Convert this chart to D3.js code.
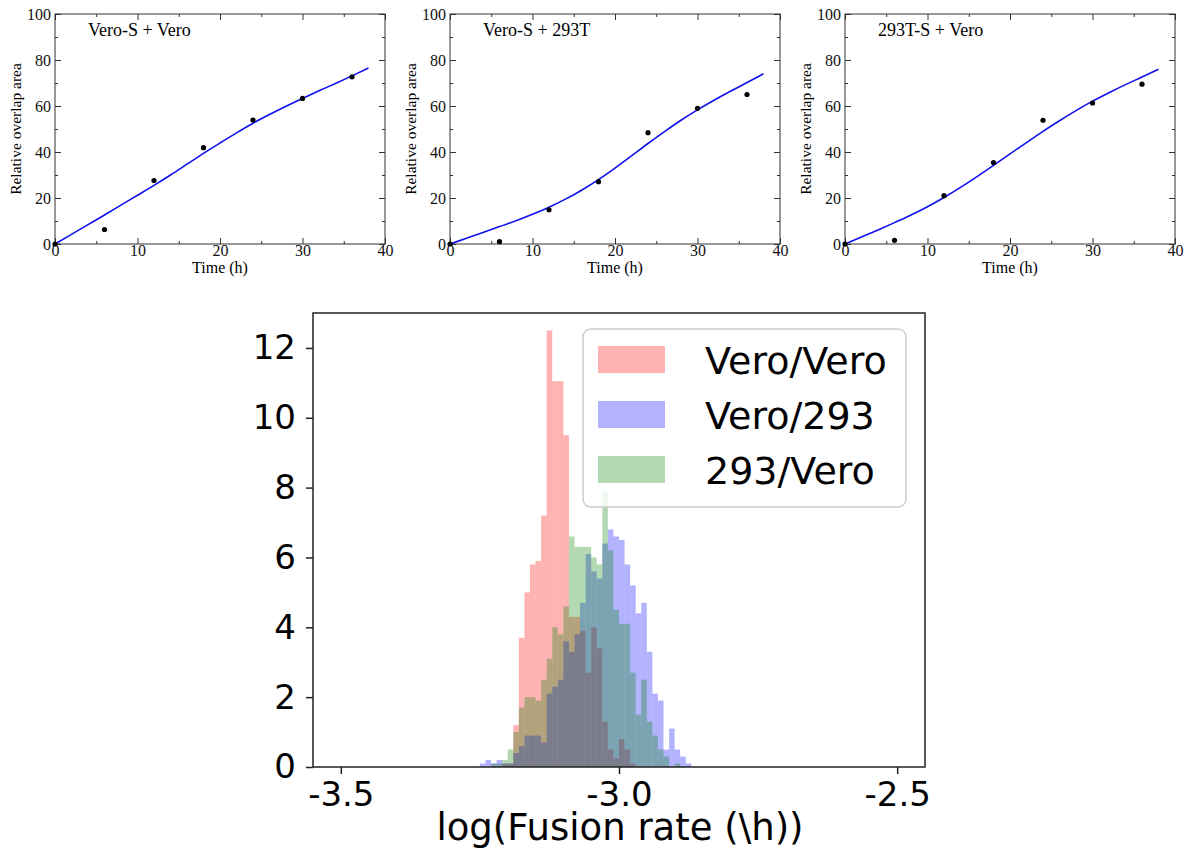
<!DOCTYPE html>
<html>
<head>
<meta charset="utf-8">
<script src="https://cdn.jsdelivr.net/npm/d3@7"></script>
<style>
  body { margin: 0; background: #fff; }
  svg { display: block; }
</style>
</head>
<body>
<svg id="chart" width="1184" height="850"></svg>
<script>
// top row: measured overlap area and model fit
const sampleTimes = [0, 6, 12, 18, 24, 30, 36];
const fitTimes = [0, 2, 4, 6, 8, 10, 12, 14, 16, 18, 20, 22, 24, 26, 28, 30, 32, 34, 36, 38];
const panelTitles = ["Vero-S + Vero", "Vero-S + 293T", "293T-S + Vero"];

const veroVeroObs = [0, 6.3, 27.6, 41.9, 53.9, 63.3, 72.7];
const vero293Obs = [0, 1.0, 14.9, 27.1, 48.4, 59.0, 65.0];
const t293VeroObs = [0, 1.6, 21.0, 35.4, 53.8, 61.3, 69.5];

const veroVeroFit = [0, 4.2, 8.4, 12.6, 16.9, 21.2, 25.5, 30.0, 34.7, 39.4, 43.9, 48.3, 52.5, 56.3, 59.9, 63.3, 66.6, 69.8, 73.1, 76.5];
const vero293Fit = [0, 2.5, 5.0, 7.6, 10.1, 12.9, 16.0, 19.5, 23.5, 28.0, 33.0, 38.3, 43.7, 48.9, 53.8, 58.3, 62.5, 66.4, 70.2, 74.0];
const t293VeroFit = [0, 3.0, 6.1, 9.3, 12.6, 16.2, 20.2, 24.6, 29.3, 34.2, 39.2, 44.1, 49.0, 53.6, 58.0, 62.1, 65.8, 69.3, 72.6, 76.0];

const timeTicks = [0, 10, 20, 30, 40];
const timeMinorTicks = [5, 15, 25, 35];
const areaTicks = [0, 20, 40, 60, 80, 100];
const areaMinorTicks = [10, 30, 50, 70, 90];

// bottom: posterior histograms of log fusion rate (density, bin width 0.01)
const binLefts = [
  -3.25, -3.24, -3.23, -3.22, -3.21, -3.20, -3.19, -3.18, -3.17, -3.16,
  -3.15, -3.14, -3.13, -3.12, -3.11, -3.10, -3.09, -3.08, -3.07, -3.06,
  -3.05, -3.04, -3.03, -3.02, -3.01, -3.00, -2.99, -2.98, -2.97, -2.96,
  -2.95, -2.94, -2.93, -2.92, -2.91, -2.90, -2.89, -2.88
];
const binWidth = 0.01;
const veroVeroDensity = [
  0, 0, 0, 0, 0.1, 0.1, 1.2, 3.7, 5.0, 5.8,
  5.9, 7.2, 12.5, 11.05, 11.05, 9.5, 4.3, 4.3, 3.9, 2.7,
  4.0, 3.4, 1.3, 0.5, 0.25, 0.8, 0.5, 0.1, 0, 0,
  0, 0, 0, 0, 0, 0, 0, 0
];
const vero293Density = [
  0.1, 0.2, 0.1, 0.2, 0.1, 0.1, 0.4, 0.6, 0.9, 0.9,
  0.9, 0.7, 2.1, 2.3, 2.5, 3.6, 3.3, 3.8, 4.7, 6.1,
  5.6, 5.4, 6.4, 6.8, 6.6, 6.5, 5.8, 5.2, 4.4, 4.7,
  3.3, 2.1, 1.9, 0.5, 1.1, 0.5, 0.3, 0.1
];
const t293VeroDensity = [
  0, 0, 0.1, 0.1, 0.2, 0.5, 1.0, 1.7, 2.0, 2.0,
  1.9, 2.5, 3.1, 4.0, 3.8, 4.6, 6.6, 6.3, 6.3, 6.3,
  6.0, 5.8, 7.9, 6.2, 4.5, 4.1, 4.1, 2.7, 1.5, 2.5,
  1.3, 0.9, 0.5, 0.3, 0, 0.1, 0, 0
];
const histLabels = ["Vero/Vero", "Vero/293", "293/Vero"];
const histColors = ["red", "blue", "green"];
const rateTicks = [-3.5, -3.0, -2.5];
const densityTicks = [0, 2, 4, 6, 8, 10, 12];

const svg = d3.select("#chart");
const serif = '"Liberation Serif", "Times New Roman", serif';
const sans = '"DejaVu Sans", sans-serif';

function drawFitPanel(left, title, obs, fit) {
  const top = 14;
  const bottom = 244;
  const right = left + 330;
  const x = d3.scaleLinear().domain([0, 40]).range([left, right]);
  const y = d3.scaleLinear().domain([0, 100]).range([bottom, top]);
  const g = svg.append("g");

  const styleAxis = (sel) => {
    sel.select(".domain").remove();
    sel.selectAll("line").attr("stroke", "#333").attr("stroke-width", 1);
    sel.selectAll("text")
      .attr("font-family", serif)
      .attr("font-size", 16)
      .attr("fill", "#111");
  };

  // major + minor ticks, pointing inward on all four sides
  g.append("g").attr("transform", `translate(0,${bottom})`)
    .call(d3.axisBottom(x).tickValues(timeTicks).tickSizeInner(-6).tickSizeOuter(0).tickPadding(1).tickFormat(d3.format("d")))
    .call(styleAxis);
  g.append("g").attr("transform", `translate(0,${bottom})`)
    .call(d3.axisBottom(x).tickValues(timeMinorTicks).tickSize(-3).tickFormat(""))
    .call(styleAxis);
  g.append("g").attr("transform", `translate(0,${top})`)
    .call(d3.axisTop(x).tickValues(timeTicks).tickSize(-6).tickFormat(""))
    .call(styleAxis);
  g.append("g").attr("transform", `translate(0,${top})`)
    .call(d3.axisTop(x).tickValues(timeMinorTicks).tickSize(-3).tickFormat(""))
    .call(styleAxis);
  g.append("g").attr("transform", `translate(${left},0)`)
    .call(d3.axisLeft(y).tickValues(areaTicks).tickSizeInner(-6).tickSizeOuter(0).tickPadding(4).tickFormat(d3.format("d")))
    .call(styleAxis);
  g.append("g").attr("transform", `translate(${left},0)`)
    .call(d3.axisLeft(y).tickValues(areaMinorTicks).tickSize(-3).tickFormat(""))
    .call(styleAxis);
  g.append("g").attr("transform", `translate(${right},0)`)
    .call(d3.axisRight(y).tickValues(areaTicks).tickSize(-6).tickFormat(""))
    .call(styleAxis);
  g.append("g").attr("transform", `translate(${right},0)`)
    .call(d3.axisRight(y).tickValues(areaMinorTicks).tickSize(-3).tickFormat(""))
    .call(styleAxis);

  g.append("rect")
    .attr("x", left).attr("y", top)
    .attr("width", right - left).attr("height", bottom - top)
    .attr("fill", "none").attr("stroke", "#333").attr("stroke-width", 1);

  const line = d3.line()
    .x((d, i) => x(fitTimes[i]))
    .y((d) => y(d))
    .curve(d3.curveMonotoneX);
  g.append("path")
    .datum(fit)
    .attr("d", line)
    .attr("fill", "none")
    .attr("stroke", "#1010ee")
    .attr("stroke-width", 1.6);

  g.selectAll("circle")
    .data(obs)
    .join("circle")
    .attr("cx", (d, i) => x(sampleTimes[i]))
    .attr("cy", (d) => y(d))
    .attr("r", 2.6)
    .attr("fill", "#000");

  g.append("text")
    .attr("x", left + 33).attr("y", top + 22)
    .attr("font-family", serif).attr("font-size", 18)
    .text(title);
  g.append("text")
    .attr("x", (left + right) / 2).attr("y", 273)
    .attr("text-anchor", "middle")
    .attr("font-family", serif).attr("font-size", 16)
    .text("Time (h)");
  g.append("text")
    .attr("transform", `translate(${left - 34},${(top + bottom) / 2}) rotate(-90)`)
    .attr("text-anchor", "middle")
    .attr("font-family", serif).attr("font-size", 15.5)
    .text("Relative overlap area");
}

drawFitPanel(55, panelTitles[0], veroVeroObs, veroVeroFit);
drawFitPanel(450, panelTitles[1], vero293Obs, vero293Fit);
drawFitPanel(845, panelTitles[2], t293VeroObs, t293VeroFit);

// ---- histogram ----
(function drawHistogram() {
  const left = 313, right = 925, top = 313, bottom = 767;
  const x = d3.scaleLinear().domain([-3.55, -2.45]).range([left, right]);
  const y = d3.scaleLinear().domain([0, 13]).range([bottom, top]);
  const g = svg.append("g");
  const series = [veroVeroDensity, vero293Density, t293VeroDensity];

  series.forEach((values, k) => {
    g.append("g")
      .selectAll("rect")
      .data(values)
      .join("rect")
      .attr("x", (d, i) => x(binLefts[i]))
      .attr("width", (d, i) => x(binLefts[i] + binWidth) - x(binLefts[i]))
      .attr("y", (d) => y(d))
      .attr("height", (d) => y(0) - y(d))
      .attr("fill", histColors[k])
      .attr("fill-opacity", 0.3);
  });

  g.append("rect")
    .attr("x", left).attr("y", top)
    .attr("width", right - left).attr("height", bottom - top)
    .attr("fill", "none").attr("stroke", "#222").attr("stroke-width", 1.5);

  const styleAxis = (sel) => {
    sel.select(".domain").remove();
    sel.selectAll("line").attr("stroke", "#222").attr("stroke-width", 1.5);
    sel.selectAll("text")
      .attr("font-family", sans)
      .attr("font-size", 34)
      .attr("fill", "#000");
  };

  g.append("g").attr("transform", `translate(0,${bottom})`)
    .call(d3.axisBottom(x).tickValues(rateTicks).tickSize(7).tickPadding(8).tickFormat((d) => d.toFixed(1)))
    .call(styleAxis);
  g.append("g").attr("transform", `translate(${left},0)`)
    .call(d3.axisLeft(y).tickValues(densityTicks).tickSize(7).tickPadding(10).tickFormat(d3.format("d")))
    .call(styleAxis);

  g.append("text")
    .attr("x", 620).attr("y", 840)
    .attr("text-anchor", "middle")
    .attr("font-family", sans).attr("font-size", 37)
    .text("log(Fusion rate (\\h))");

  // legend
  const lg = g.append("g");
  lg.append("rect")
    .attr("x", 583).attr("y", 329).attr("width", 323).attr("height", 178)
    .attr("rx", 8)
    .attr("fill", "#fff").attr("fill-opacity", 0.8)
    .attr("stroke", "#ccc").attr("stroke-width", 1.5);
  histLabels.forEach((label, k) => {
    const cy = 360 + k * 55;
    lg.append("rect")
      .attr("x", 598).attr("y", cy - 14).attr("width", 67).attr("height", 27)
      .attr("fill", histColors[k]).attr("fill-opacity", 0.3);
    lg.append("text")
      .attr("x", 705).attr("y", cy + 14)
      .attr("font-family", sans).attr("font-size", 38)
      .text(label);
  });
})();
</script>
</body>
</html>
